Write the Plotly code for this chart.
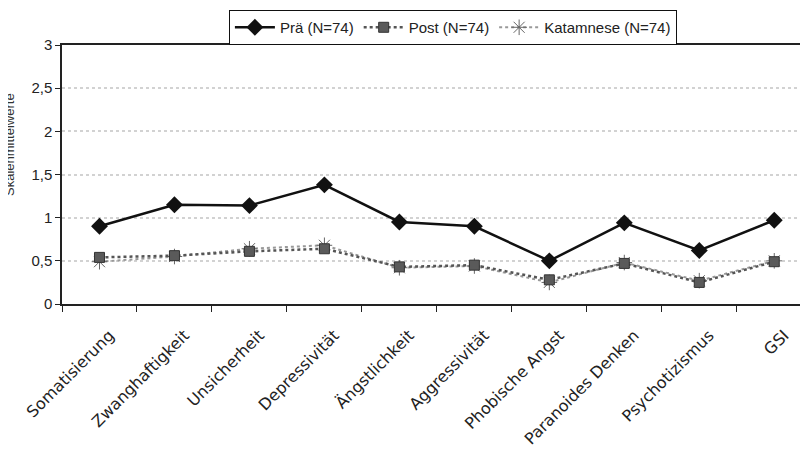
import plotly.graph_objects as go

categories = ["Somatisierung", "Zwanghaftigkeit", "Unsicherheit", "Depressivität",
              "Ängstlichkeit", "Aggressivität", "Phobische Angst", "Paranoides Denken",
              "Psychotizismus", "GSI"]
pre = [0.90, 1.15, 1.14, 1.38, 0.95, 0.90, 0.50, 0.94, 0.62, 0.97]
post = [0.54, 0.56, 0.61, 0.64, 0.43, 0.45, 0.28, 0.47, 0.25, 0.49]
kat = [0.49, 0.55, 0.64, 0.68, 0.42, 0.44, 0.25, 0.48, 0.27, 0.50]
y_ticks = [0, 0.5, 1, 1.5, 2, 2.5, 3]

fig = go.Figure()
fig.add_trace(go.Scatter(x=categories, y=pre, name="Prä (N=74)", mode="lines+markers",
                         legendrank=1,
                         line=dict(color="#111111", width=2.5),
                         marker=dict(symbol="diamond", size=13, color="#111111")))
fig.add_trace(go.Scatter(x=categories, y=kat, name="Katamnese (N=74)", mode="lines+markers",
                         legendrank=3,
                         line=dict(color="#999999", width=2, dash="dot"),
                         marker=dict(symbol="asterisk-open", size=13, color="#666666",
                                     line=dict(width=1, color="#666666"))))
fig.add_trace(go.Scatter(x=categories, y=post, name="Post (N=74)", mode="lines+markers",
                         legendrank=2,
                         line=dict(color="#555555", width=2.5, dash="dot"),
                         marker=dict(symbol="square", size=10, color="#5a5a5a",
                                     line=dict(width=1, color="#333333"))))

fig.update_layout(
    width=800, height=465,
    margin=dict(l=54, r=0, t=37, b=169, autoexpand=False),
    paper_bgcolor="white", plot_bgcolor="white",
    separators=",.",
    font=dict(family="Liberation Sans, Arial, sans-serif", size=14, color="#222222"),
    showlegend=True,
    legend=dict(orientation="h", x=0.524, xanchor="center", y=1.135, yanchor="top",
                bordercolor="#111111", borderwidth=1, font=dict(size=15),
                traceorder="normal", itemwidth=40),
    xaxis=dict(type="category", categoryorder="array", categoryarray=categories,
               range=[-0.5, 9.45], showline=True, linecolor="#222222", linewidth=1.5,
               mirror=True, ticks="outside", ticklen=6, tickcolor="#222222",
               tickson="boundaries", tickangle=-45, showgrid=False,
               ticklabelstandoff=14, ticklabelshift=10,
               tickfont=dict(family="DejaVu Sans, sans-serif", size=16, color="#222222")),
    yaxis=dict(range=[0, 3], tickvals=y_ticks, showline=True, linecolor="#222222",
               linewidth=1.5, ticks="outside", ticklen=5, tickcolor="#222222",
               showgrid=True, gridcolor="#d2d2d2", griddash="dot", gridwidth=1.5,
               zeroline=False, tickfont=dict(size=15)),
)
fig.add_annotation(text="Skalenmittelwerte", xref="paper", yref="paper",
                   x=-0.0697, y=0.614, xanchor="center", yanchor="middle",
                   textangle=-90, showarrow=False, font=dict(size=13, color="#333333"))

fig.write_html("out.html")
